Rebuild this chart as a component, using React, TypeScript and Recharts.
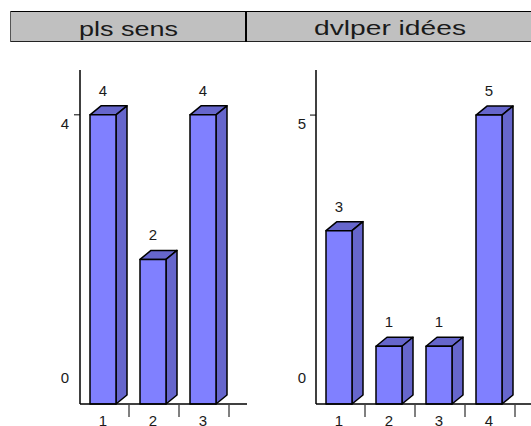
import { BarChart, Bar, XAxis, YAxis } from 'recharts';

const leftTitle = 'pls sens';
const rightTitle = 'dvlper idées';
const leftCategories = ['1', '2', '3'];
const leftValues = [4, 2, 4];
const leftTicks = [0, 4];
const leftMax = 4.62;
const rightCategories = ['1', '2', '3', '4'];
const rightValues = [3, 1, 1, 5];
const rightTicks = [0, 5];
const rightMax = 5.78;

const FRONT = '#8080ff';
const SIDE = '#6666cc';
const FONT = '"Liberation Sans", Arial, sans-serif';
const TEXT = '#1a1a1a';

const Bar3D = ({ x, y, width, height }: any) => {
  const dx = 11;
  const dy = 9;
  const r = x + width;
  const b = y + height;
  return (
    <g stroke="#000" strokeWidth={1.5} strokeLinejoin="round">
      <polygon points={`${x},${y} ${x + dx},${y - dy} ${r + dx},${y - dy} ${r},${y}`} fill={SIDE} />
      <polygon points={`${r},${y} ${r + dx},${y - dy} ${r + dx},${b - dy} ${r},${b}`} fill={SIDE} />
      <rect x={x} y={y} width={width} height={height} fill={FRONT} />
    </g>
  );
};

const ValueLabel = ({ x, y, width, value }: any) => (
  <text x={x + width / 2} y={y - 19} textAnchor="middle" fontFamily={FONT} fontSize={15} fill={TEXT}>
    {value}
  </text>
);

const XTick = ({ x, y, payload }: any) => (
  <g>
    <line x1={x + 26} x2={x + 26} y1={y - 7} y2={y + 5} stroke="#000" strokeWidth={1} />
    <text x={x} y={y + 14} textAnchor="middle" fontFamily={FONT} fontSize={15} fill={TEXT}>
      {payload.value}
    </text>
  </g>
);

const YTick = ({ x, y, payload, labelX }: any) => {
  const zero = payload.value === 0;
  return (
    <g>
      {!zero && <line x1={x + 2} x2={x + 8} y1={y} y2={y} stroke="#000" strokeWidth={1} />}
      <text x={labelX} y={zero ? y - 21 : y + 14} textAnchor="middle" fontFamily={FONT} fontSize={15} fill={TEXT}>
        {payload.value}
      </text>
    </g>
  );
};

const Panel = ({ categories, values, ticks, max, left, width, axisWidth, rightMargin, padRight, labelX }: any) => {
  const data = categories.map((c: string, i: number) => ({ name: c, value: values[i] }));
  return (
    <div style={{ position: 'absolute', left, top: 0 }}>
      <BarChart
        width={width}
        height={426}
        data={data}
        margin={{ top: 70, right: rightMargin, bottom: 0, left: 0 }}
        style={{ overflow: 'visible' }}
      >
        <XAxis
          dataKey="name"
          height={22}
          interval={0}
          tickLine={false}
          axisLine={{ stroke: '#000', strokeWidth: 1.5 }}
          padding={{ left: -2, right: padRight }}
          tick={<XTick />}
        />
        <YAxis
          width={axisWidth}
          domain={[0, max]}
          ticks={ticks}
          tickLine={false}
          axisLine={{ stroke: '#000', strokeWidth: 1.5 }}
          tick={<YTick labelX={labelX} />}
        />
        <Bar dataKey="value" barSize={26} shape={<Bar3D />} label={<ValueLabel />} isAnimationActive={false} />
      </BarChart>
    </div>
  );
};

const Header = () => (
  <svg width={531} height={50} style={{ position: 'absolute', left: 0, top: 0 }}>
    <rect x={10.5} y={11.5} width={520.5} height={30} fill="#c0c0c0" stroke="none" />
    <line x1={10} x2={531} y1={11.5} y2={11.5} stroke="#000" />
    <line x1={10} x2={531} y1={41.5} y2={41.5} stroke="#222" />
    <line x1={10.5} x2={10.5} y1={11} y2={42} stroke="#555" />
    <line x1={246} x2={246} y1={11} y2={42} stroke="#000" strokeWidth={2} />
    <text x={79} y={36} fontFamily={FONT} fontSize={20} textLength={99} lengthAdjust="spacingAndGlyphs" fill={TEXT}>
      {leftTitle}
    </text>
    <text x={314} y={35} fontFamily={FONT} fontSize={20} textLength={152} lengthAdjust="spacingAndGlyphs" fill={TEXT}>
      {rightTitle}
    </text>
  </svg>
);

export default function App() {
  return (
    <div style={{ position: 'absolute', left: 0, top: 0, width: 531, height: 426, overflow: 'hidden', background: '#fff' }}>
      <Header />
      <Panel
        categories={leftCategories}
        values={leftValues}
        ticks={leftTicks}
        max={leftMax}
        left={0}
        width={265}
        axisWidth={80}
        rightMargin={18}
        padRight={19}
        labelX={65}
      />
      <Panel
        categories={rightCategories}
        values={rightValues}
        ticks={rightTicks}
        max={rightMax}
        left={265}
        width={266}
        axisWidth={51}
        rightMargin={0}
        padRight={17}
        labelX={37}
      />
    </div>
  );
}
